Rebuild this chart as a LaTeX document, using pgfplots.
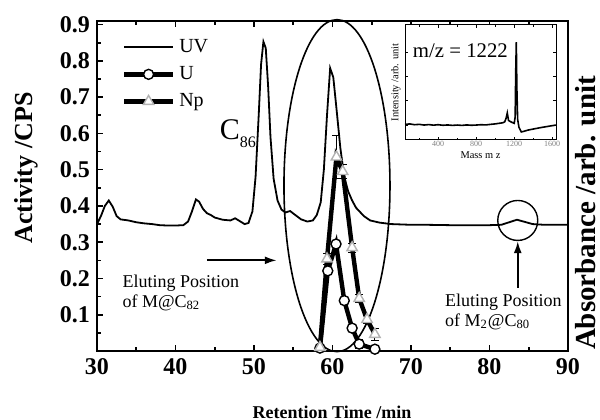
\documentclass[border=0pt]{standalone}
\usepackage{fontspec}
\setmainfont{Liberation Serif}
\usepackage{pgfplots}
\pgfplotsset{compat=1.18}
\usetikzlibrary{arrows.meta}

\pgfplotstableread{
t v
30.0 0.350
30.5 0.372
31.0 0.400
31.5 0.415
32.0 0.398
32.5 0.372
33.0 0.363
34.0 0.360
35.0 0.355
36.0 0.352
37.0 0.350
38.0 0.347
39.0 0.346
40.0 0.346
41.0 0.347
41.6 0.357
42.1 0.385
42.6 0.418
43.0 0.412
43.5 0.392
44.0 0.380
44.5 0.375
45.0 0.368
46.0 0.362
47.0 0.360
47.6 0.366
48.2 0.358
48.8 0.350
49.3 0.353
49.8 0.385
50.2 0.480
50.6 0.650
50.9 0.790
51.2 0.853
51.5 0.835
51.8 0.730
52.1 0.590
52.5 0.475
53.0 0.415
53.5 0.390
54.0 0.382
54.6 0.386
55.2 0.376
56.0 0.363
56.8 0.357
57.5 0.360
58.0 0.375
58.5 0.410
58.9 0.500
59.3 0.650
59.7 0.780
60.1 0.755
60.5 0.670
61.0 0.560
61.5 0.480
62.0 0.440
62.5 0.415
63.0 0.395
64.0 0.372
64.8 0.360
66.0 0.354
67.5 0.350
70.0 0.348
72.0 0.348
75.0 0.347
78.0 0.347
80.0 0.347
81.5 0.348
82.5 0.355
83.5 0.362
84.5 0.356
85.5 0.350
87.0 0.348
90.0 0.348
}\uvdata

\pgfplotstableread{
t v e
58.4 0.008 0
59.4 0.221 0
60.45 0.295 0
61.5 0.139 0
62.5 0.063 0
63.4 0.019 0.012
65.4 0.005 0
}\udata

\pgfplotstableread{
t v e
58.4 0.010 0
59.3 0.254 0.015
60.5 0.535 0.060
61.3 0.495 0.020
62.5 0.285 0.012
63.4 0.145 0.010
64.4 0.087 0.010
65.4 0.046 0.017
}\npdata

\pgfplotstableread{
m i
50 0.135
100 0.140
150 0.133
200 0.136
250 0.130
300 0.134
350 0.129
400 0.133
450 0.128
500 0.131
550 0.127
600 0.130
650 0.127
700 0.131
750 0.128
800 0.130
850 0.133
900 0.131
950 0.136
1000 0.140
1040 0.145
1080 0.150
1100 0.158
1115 0.190
1127 0.235
1140 0.170
1160 0.160
1180 0.152
1200 0.145
1210 0.200
1216 0.600
1222 0.850
1228 0.450
1236 0.180
1250 0.110
1275 0.070
1300 0.075
1340 0.085
1380 0.092
1430 0.100
1480 0.108
1530 0.115
1580 0.122
1640 0.130
}\msdata

\begin{document}
\begin{tikzpicture}
\useasboundingbox (-48.5bp,-34.5bp) rectangle (251.5bp,175.5bp);
\begin{axis}[
  at={(0,0)}, anchor=south west, scale only axis,
  width=235.5bp, height=165bp,
  xmin=30, xmax=90, ymin=0, ymax=0.91,
  clip=false,
  xtick={30,40,...,90}, minor xtick={35,45,...,85},
  ytick={0.1,0.2,0.3,0.4,0.5,0.6,0.7,0.8,0.9},
  minor ytick={0.05,0.15,0.25,0.35,0.45,0.55,0.65,0.75,0.85},
  yticklabel style={/pgf/number format/fixed,/pgf/number format/precision=1,/pgf/number format/fixed zerofill},
  /pgf/number format/assume math mode=true,
  tick label style={font=\bfseries\fontsize{12bp}{12bp}\selectfont},
  tick align=inside, xtick pos=both, ytick pos=left,
  major tick length=3bp, minor tick length=1.8bp,
  axis line style={line width=1.2bp},
  every tick/.style={line width=0.8bp, black},
  legend style={draw=none, fill=none, at={(0.052,0.958)}, anchor=north west,
    font=\fontsize{10bp}{12bp}\selectfont, row sep=1.5bp, inner sep=0pt},
  legend cell align=left,
  legend image code/.code={\draw[mark repeat=2,mark phase=2,#1] plot coordinates {(0bp,0bp) (12.25bp,0bp) (24.5bp,0bp)};},
]
\addplot[black, line width=0.9bp, no marks] table[x=t,y=v] {\uvdata};
\addlegendentry{UV}
\addplot[black, line width=2.2bp, mark=*, mark size=2.5bp,
  mark options={fill=white, draw=black, line width=0.7bp, solid},
  error bars/.cd, y dir=both, y explicit,
  error bar style={line width=0.5bp, black}, error mark options={rotate=90, mark size=2bp, line width=0.5bp}]
  table[x=t,y=v,y error=e] {\udata};
\addlegendentry{U}
\addplot[black, line width=2.2bp, mark=triangle*, mark size=3bp,
  mark options={fill=white, draw=gray!60, line width=0.7bp, solid},
  error bars/.cd, y dir=both, y explicit,
  error bar style={line width=0.5bp, black}, error mark options={rotate=90, mark size=2bp, line width=0.5bp}]
  table[x=t,y=v,y error=e] {\npdata};
\addlegendentry{Np}

\draw[line width=0.8bp] (axis cs:60.57,0.456) ellipse [x radius=26.5bp, y radius=83bp];
\draw[line width=0.7bp] (axis cs:83.6,0.36) circle [radius=10bp];
\draw[line width=1bp, -{Latex[length=6bp,width=4bp]}] (axis cs:44,0.25) -- (axis cs:52.9,0.25);
\draw[line width=1bp, -{Latex[length=6bp,width=4bp]}] (axis cs:83.6,0.175) -- (axis cs:83.6,0.303);
\node[anchor=west, align=left, font=\fontsize{9bp}{10bp}\selectfont, inner sep=0pt] at (axis cs:33.2,0.161) {Eluting Position\\of M@C\textsubscript{82}};
\node[anchor=west, align=left, font=\fontsize{9bp}{10bp}\selectfont, inner sep=0pt] at (axis cs:74.3,0.109) {Eluting Position\\of M\textsubscript{2}@C\textsubscript{80}};
\node[anchor=west, font=\fontsize{15bp}{15bp}\selectfont, inner sep=0pt] at (axis cs:45.6,0.6) {C\raisebox{-4bp}{\fontsize{8bp}{8bp}\selectfont 86}};
\end{axis}

\begin{axis}[
  at={(154bp,105.5bp)}, anchor=south west, scale only axis,
  width=75.5bp, height=57.5bp,
  xmin=50, xmax=1640, ymin=0, ymax=1,
  clip=false,
  axis background/.style={fill=white},
  xtick={400,800,1200,1600}, minor xtick={200,600,1000,1400},
  ytick={0.13,0.34,0.55,0.76}, yticklabels={},
  tick align=inside, xtick pos=both, ytick pos=both,
  major tick length=1.5bp, minor tick length=0.9bp,
  axis line style={line width=0.5bp},
  every tick/.style={line width=0.4bp, black},
  xticklabel style={font=\fontsize{4bp}{4bp}\selectfont, text=gray, inner sep=0.5bp},
  /pgf/number format/assume math mode=true,
  /pgf/number format/set thousands separator={},
]
\addplot[black, line width=0.8bp, no marks] table[x=m,y=i] {\msdata};
\node[anchor=west, font=\fontsize{10.4bp}{11bp}\selectfont, inner sep=0pt] at (rel axis cs:0.05,0.78) {m/z = 1222};
\node[rotate=90, font=\fontsize{5.2bp}{6bp}\selectfont, inner sep=0pt] at (rel axis cs:-0.06,0.5) {Intensity /arb. unit};
\node[font=\fontsize{5.2bp}{6bp}\selectfont, inner sep=0pt] at (rel axis cs:0.5,-0.13) {Mass m z};
\end{axis}

\node[rotate=90, font=\bfseries\fontsize{13bp}{13bp}\selectfont] at (-35.5bp,91.5bp) {Activity /CPS};
\node[rotate=90, font=\bfseries\fontsize{14.5bp}{14.5bp}\selectfont] at (244.5bp,69bp) {Absorbance /arb. unit};
\node[font=\bfseries\fontsize{9bp}{9bp}\selectfont] at (117.5bp,-30.5bp) {Retention Time /min};
\end{tikzpicture}
\end{document}
